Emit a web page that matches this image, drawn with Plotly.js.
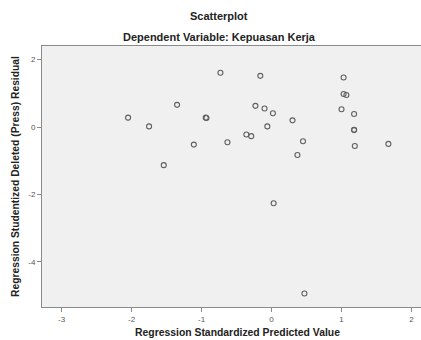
<!DOCTYPE html>
<html>
<head>
<meta charset="utf-8">
<script src="https://cdn.plot.ly/plotly-3.0.1.min.js"></script>
<style>html,body{margin:0;padding:0;background:#fff;}#chart{width:421px;height:340px;}</style>
</head>
<body>
<div id="chart"></div>
<script>
// Regression Standardized Predicted Value
const predicted = [-2.05, -1.75, -1.54, -1.35, -1.11, -0.94, -0.93, -0.73, -0.63, -0.36, -0.29, -0.23, -0.16, -0.10, -0.06, 0.02, 0.03, 0.30, 0.37, 0.45, 0.47, 1.00, 1.03, 1.03, 1.07, 1.18, 1.18, 1.18, 1.19, 1.67];
// Regression Studentized Deleted (Press) Residual
const residual  = [0.28, 0.02, -1.13, 0.66, -0.52, 0.28, 0.27, 1.61, -0.45, -0.22, -0.27, 0.63, 1.52, 0.55, 0.02, 0.41, -2.26, 0.20, -0.83, -0.42, -4.94, 0.53, 1.47, 0.98, 0.95, 0.39, -0.09, -0.08, -0.56, -0.50];
const xTicks = [-3, -2, -1, 0, 1, 2];
const yTicks = [2, 0, -2, -4];

const FONT = 'Liberation Sans, Arial, sans-serif';

const trace = {
  x: predicted, y: residual, type: 'scatter', mode: 'markers',
  marker: {symbol: 'circle-open', size: 5, color: '#606060', line: {width: 1.1, color: '#606060'}},
  hoverinfo: 'skip'
};

const axisCommon = {
  showgrid: false, zeroline: false, showline: true, mirror: true,
  linecolor: '#8a8a8a', linewidth: 1,
  ticks: 'outside', ticklen: 4, tickcolor: '#8a8a8a', tickwidth: 1,
  tickfont: {family: FONT, size: 8, color: '#555'}
};

const layout = {
  width: 421, height: 340,
  margin: {l: 42, r: 0, t: 46, b: 33},
  paper_bgcolor: '#ffffff', plot_bgcolor: '#f0f0f0',
  showlegend: false,
  xaxis: Object.assign({}, axisCommon, {range: [-3.28, 2.136], tickvals: xTicks, ticktext: xTicks.map(String)}),
  yaxis: Object.assign({}, axisCommon, {range: [-5.34, 2.406], tickvals: yTicks, ticktext: yTicks.map(String)}),
  annotations: [
    {text: '<b>Scatterplot</b>', xref: 'paper', yref: 'paper', x: (219-42)/379, y: (307-16)/261, yanchor: 'middle', xanchor: 'center', showarrow: false, font: {family: FONT, size: 11, color: '#222'}},
    {text: '<b>Dependent Variable: Kepuasan Kerja</b>', xref: 'paper', yref: 'paper', x: (219-42)/379, y: (307-37)/261, yanchor: 'middle', xanchor: 'center', showarrow: false, font: {family: FONT, size: 11, color: '#222'}},
    {text: '<b>Regression Standardized Predicted Value</b>', xref: 'paper', yref: 'paper', x: (237-42)/379, y: (307-332)/261, yanchor: 'middle', xanchor: 'center', showarrow: false, font: {family: FONT, size: 10.4, color: '#222'}},
    {text: '<b>Regression Studentized Deleted (Press) Residual</b>', xref: 'paper', yref: 'paper', x: (15-42)/379, y: (307-177)/261, yanchor: 'middle', xanchor: 'center', textangle: -90, showarrow: false, font: {family: FONT, size: 10.3, color: '#222'}}
  ]
};

Plotly.newPlot('chart', [trace], layout, {displayModeBar: false, staticPlot: true});
</script>
</body>
</html>
